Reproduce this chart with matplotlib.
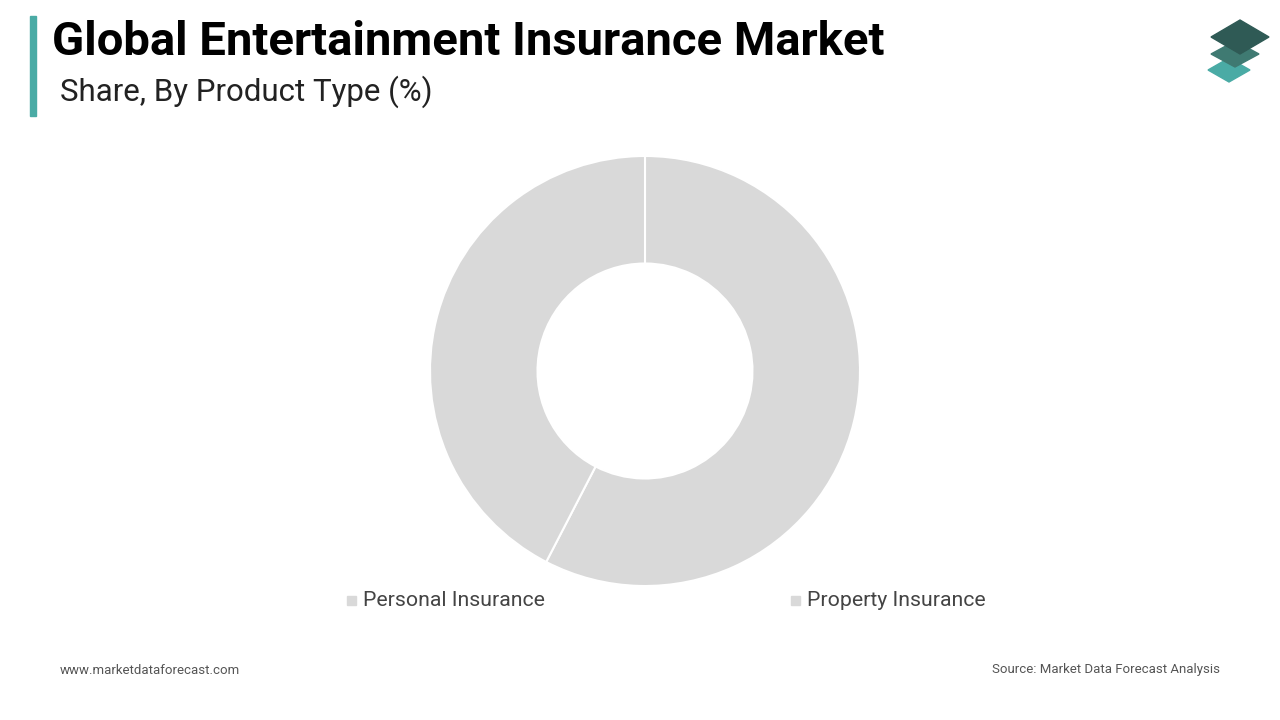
import matplotlib.pyplot as plt
from matplotlib.patches import Polygon, Rectangle

# data
labels = ['Personal Insurance', 'Property Insurance']
shares = [57.6, 42.4]
colors = ['#d9d9d9', '#d9d9d9']

fig = plt.figure(figsize=(12.8, 7.2), dpi=100)
fig.patch.set_facecolor('white')

# donut, centre at (645,371) px, radius 215 px
ax = fig.add_axes([(645-215)/1280, (720-371-215)/720, 430/1280, 430/720])
ax.pie(shares, colors=colors, startangle=90, counterclock=False,
       wedgeprops=dict(width=0.5, edgecolor='white', linewidth=1.5))
ax.set_xlim(-1, 1)
ax.set_ylim(-1, 1)
ax.set_aspect('equal')

# titles
fig.add_artist(Rectangle((30/1280, 1-116/720), 6/1280, 100/720, color='#4aaba5', transform=fig.transFigure))
fig.text(52/1280, 1-42/720, 'Global Entertainment Insurance Market', fontsize=34, fontweight='bold',
         family='Roboto', va='center')
fig.text(60/1280, 1-92/720, 'Share, By Product Type (%)', fontsize=22.5, family='Roboto', va='center', color='#222222')

# legend
for lx, lab in zip([347, 791], labels):
    fig.add_artist(Rectangle((lx/1280, 1-605/720), 9/1280, 9/720, color='#d9d9d9', transform=fig.transFigure))
    fig.text((lx+16)/1280, 1-601/720, lab, fontsize=15.3, family='Roboto', va='center', color='#444444')

# footer
fig.text(60/1280, 1-670/720, 'www.marketdataforecast.com', fontsize=9.5, family='Roboto', va='center', color='#555555')
fig.text(1220/1280, 1-670/720, 'Source: Market Data Forecast Analysis', fontsize=9.5, family='Roboto',
         va='center', ha='right', color='#555555')

# logo: three stacked diamonds
def diamond(cx, cy, w, h, c):
    pts = [((cx-w)/1280, 1-cy/720), (cx/1280, 1-(cy-h)/720), ((cx+w)/1280, 1-cy/720), (cx/1280, 1-(cy+h)/720)]
    fig.add_artist(Polygon(pts, closed=True, color=c, transform=fig.transFigure))

diamond(1229, 70, 21, 12, '#4aaba5')
diamond(1235, 54, 24, 13, '#3f7a72')
diamond(1240, 37, 29, 17, '#2f5a55')

fig.savefig('out.png', dpi=100)
